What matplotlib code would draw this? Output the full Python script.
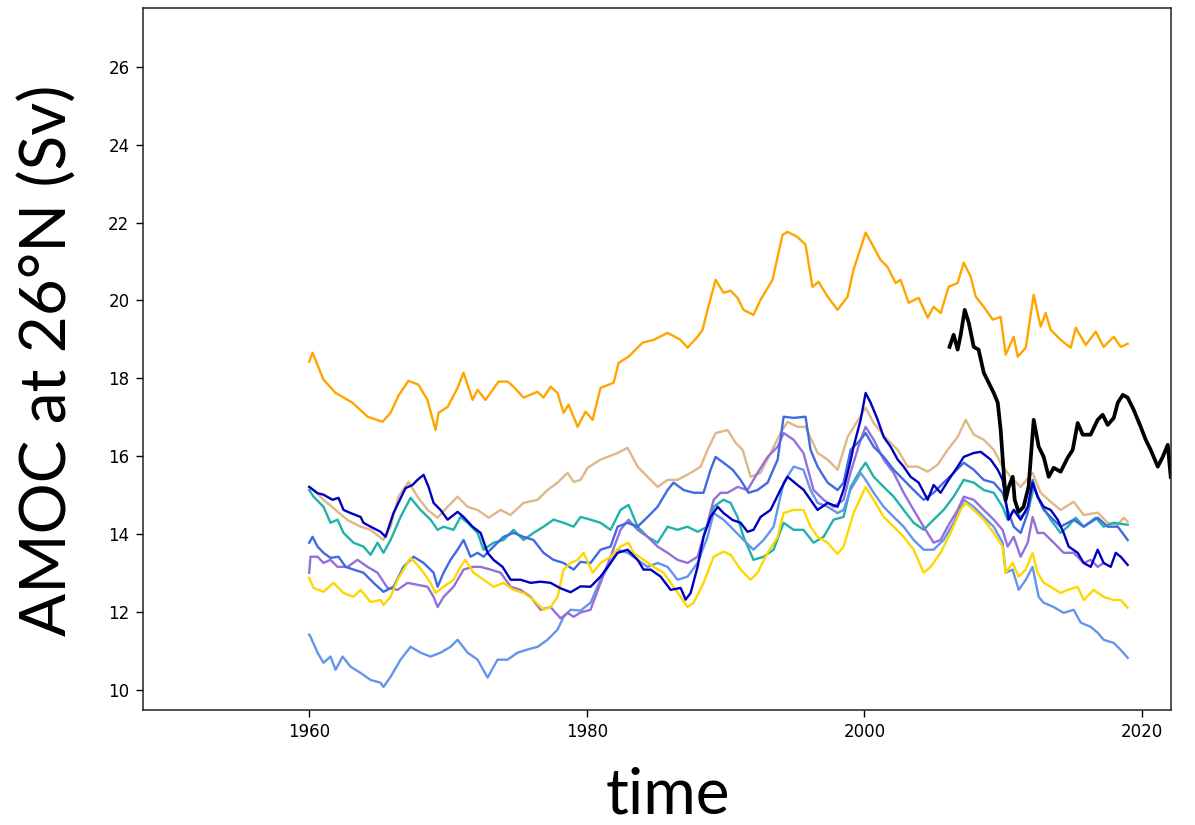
"""
AMOC at 26N: model ensemble vs RAPID observations
"""

import matplotlib
matplotlib.use("Agg")
import matplotlib.pyplot as plt


# (year, Sv) pairs
ORANGE = [
    (1960.0, 18.43), (1960.24, 18.66), (1961.03, 17.97), (1961.9, 17.63), (1963.12, 17.38),
    (1964.2, 17.02), (1965.28, 16.89), (1965.86, 17.12), (1966.43, 17.56), (1967.15, 17.94),
    (1967.87, 17.84), (1968.52, 17.45), (1969.1, 16.68), (1969.32, 17.12), (1969.97, 17.27),
    (1970.69, 17.76), (1971.12, 18.15), (1971.77, 17.45), (1972.13, 17.71), (1972.7, 17.45),
    (1973.64, 17.92), (1974.29, 17.92), (1974.72, 17.79), (1975.44, 17.51), (1976.45, 17.66),
    (1976.88, 17.51), (1977.39, 17.79), (1977.89, 17.63), (1978.33, 17.12), (1978.69, 17.33),
    (1979.34, 16.76), (1979.91, 17.15), (1980.42, 16.94), (1980.99, 17.76), (1981.93, 17.89),
    (1982.29, 18.4), (1983.01, 18.56), (1984.02, 18.92), (1984.81, 18.99), (1985.82, 19.17),
    (1986.76, 18.99), (1987.26, 18.79), (1987.98, 19.07), (1988.34, 19.25), (1988.7, 19.76),
    (1989.28, 20.53), (1989.85, 20.2), (1990.36, 20.25), (1990.86, 20.07), (1991.29, 19.76),
    (1992.01, 19.63), (1992.52, 20.02), (1993.38, 20.53), (1994.1, 21.68), (1994.46, 21.76),
    (1995.18, 21.63), (1995.76, 21.43), (1996.26, 20.35), (1996.7, 20.48), (1997.35, 20.1),
    (1998.07, 19.76), (1998.79, 20.1), (1999.22, 20.79), (2000.09, 21.74), (2000.45, 21.51),
    (2001.17, 21.04), (2001.67, 20.86), (2002.25, 20.45), (2002.61, 20.53), (2003.19, 19.94),
    (2003.91, 20.07), (2004.56, 19.56), (2004.99, 19.84), (2005.5, 19.68), (2006.07, 20.35),
    (2006.72, 20.45), (2007.16, 20.97), (2007.66, 20.61), (2008.02, 20.1), (2008.6, 19.84),
    (2009.25, 19.51), (2009.82, 19.58), (2010.18, 18.61), (2010.76, 19.07), (2011.05, 18.56),
    (2011.63, 18.79), (2012.2, 20.15), (2012.7, 19.33), (2013.06, 19.68), (2013.42, 19.25),
    (2014.14, 18.99), (2014.87, 18.79), (2015.23, 19.3), (2015.95, 18.86), (2016.67, 19.2),
    (2017.24, 18.81), (2017.97, 19.07), (2018.47, 18.81), (2018.97, 18.89),
]

TAN = [
    (1960.0, 15.22), (1960.31, 15.14), (1961.03, 14.89), (1961.9, 14.63), (1962.76, 14.37),
    (1963.7, 14.2), (1964.42, 14.12), (1965.35, 13.86), (1965.86, 14.2), (1966.43, 14.97),
    (1967.16, 15.35), (1967.8, 14.97), (1968.53, 14.63), (1969.25, 14.43), (1969.97, 14.71),
    (1970.69, 14.97), (1971.41, 14.71), (1972.13, 14.63), (1972.92, 14.43), (1973.79, 14.63),
    (1974.51, 14.5), (1975.44, 14.81), (1976.45, 14.89), (1977.17, 15.14), (1977.89, 15.33),
    (1978.61, 15.58), (1979.05, 15.35), (1979.55, 15.4), (1980.06, 15.71), (1980.99, 15.92),
    (1981.5, 15.99), (1982.22, 16.09), (1982.94, 16.22), (1983.66, 15.74), (1984.38, 15.48),
    (1985.1, 15.22), (1985.82, 15.4), (1986.54, 15.4), (1987.48, 15.58), (1988.2, 15.74),
    (1988.7, 16.17), (1989.28, 16.6), (1990.14, 16.68), (1990.72, 16.35), (1991.23, 16.17),
    (1991.8, 15.48), (1992.52, 15.58), (1993.24, 16.09), (1993.96, 16.6), (1994.46, 16.89),
    (1995.18, 16.76), (1995.76, 16.76), (1996.63, 16.09), (1997.35, 15.92), (1998.07, 15.66),
    (1998.79, 16.5), (2000.09, 17.25), (2000.67, 16.86), (2001.67, 16.43), (2002.4, 16.17),
    (2003.12, 15.74), (2003.84, 15.74), (2004.56, 15.61), (2005.28, 15.79), (2006.0, 16.17),
    (2006.72, 16.5), (2007.3, 16.94), (2007.88, 16.56), (2008.6, 16.43), (2009.32, 16.17),
    (2009.96, 15.74), (2010.54, 15.48), (2011.26, 15.22), (2012.12, 15.58), (2012.7, 15.07),
    (2013.42, 14.84), (2014.14, 14.63), (2015.08, 14.84), (2015.8, 14.5), (2016.81, 14.56),
    (2017.53, 14.3), (2018.26, 14.25), (2018.68, 14.43), (2018.97, 14.33),
]

DARKBLUE = [
    (1960.0, 15.22), (1960.6, 15.06), (1961.03, 15.02), (1961.68, 14.89), (1962.11, 14.94),
    (1962.47, 14.63), (1962.98, 14.55), (1963.7, 14.45), (1963.91, 14.3), (1964.42, 14.2),
    (1965.14, 14.07), (1965.5, 13.94), (1966.07, 14.55), (1966.94, 15.19), (1967.44, 15.27),
    (1967.8, 15.4), (1968.24, 15.53), (1968.6, 15.22), (1968.96, 14.81), (1969.46, 14.63),
    (1969.97, 14.38), (1970.69, 14.58), (1971.12, 14.45), (1971.77, 14.2), (1972.35, 14.04),
    (1972.85, 13.53), (1973.28, 13.35), (1973.93, 13.17), (1974.51, 12.84), (1975.23, 12.84),
    (1975.95, 12.76), (1976.67, 12.79), (1977.39, 12.76), (1978.11, 12.62), (1978.83, 12.52),
    (1979.55, 12.67), (1980.27, 12.66), (1980.99, 12.92), (1981.71, 13.27), (1982.22, 13.53),
    (1982.94, 13.61), (1983.66, 13.35), (1984.09, 13.1), (1984.6, 13.1), (1985.32, 12.92),
    (1986.04, 12.58), (1986.76, 12.63), (1987.12, 12.33), (1987.48, 12.5), (1987.98, 13.17),
    (1988.41, 13.94), (1988.92, 14.45), (1989.43, 14.71), (1989.85, 14.55), (1990.51, 14.37),
    (1991.08, 14.3), (1991.58, 14.07), (1992.01, 14.12), (1992.52, 14.45), (1993.24, 14.63),
    (1993.96, 15.15), (1994.46, 15.48), (1995.18, 15.27), (1995.61, 15.15), (1996.12, 14.89),
    (1996.63, 14.63), (1997.35, 14.81), (1998.07, 14.71), (1998.5, 15.15), (1999.01, 15.9),
    (1999.22, 16.25), (1999.73, 16.94), (2000.09, 17.63), (2000.45, 17.38), (2000.96, 16.94),
    (2001.39, 16.5), (2001.89, 16.25), (2002.4, 15.92), (2002.83, 15.74), (2003.33, 15.48),
    (2003.91, 15.33), (2004.56, 14.89), (2004.99, 15.27), (2005.49, 15.07), (2006.07, 15.4),
    (2006.72, 15.74), (2007.16, 15.99), (2007.88, 16.09), (2008.38, 16.12), (2009.1, 15.92),
    (2009.61, 15.66), (2009.96, 15.4), (2010.18, 14.89), (2010.39, 14.38), (2010.76, 14.63),
    (2011.26, 14.38), (2011.77, 14.71), (2012.12, 15.33), (2012.48, 14.97), (2012.92, 14.71),
    (2013.42, 14.63), (2013.93, 14.38), (2014.36, 14.04), (2014.72, 13.69), (2015.37, 13.53),
    (2015.8, 13.27), (2016.31, 13.17), (2016.81, 13.61), (2017.24, 13.27), (2017.75, 13.17),
    (2018.11, 13.53), (2018.47, 13.43), (2018.97, 13.22),
]

TEAL = [
    (1960.0, 15.14), (1960.31, 14.97), (1961.03, 14.71), (1961.53, 14.3), (1962.04, 14.38),
    (1962.47, 14.04), (1963.19, 13.79), (1963.91, 13.69), (1964.42, 13.48), (1964.92, 13.79),
    (1965.35, 13.53), (1965.86, 13.86), (1966.58, 14.45), (1967.3, 14.94), (1968.02, 14.63),
    (1968.74, 14.38), (1969.25, 14.12), (1969.68, 14.2), (1970.4, 14.12), (1970.9, 14.45),
    (1971.41, 14.3), (1972.13, 14.04), (1972.56, 13.61), (1973.28, 13.79), (1974.0, 13.86),
    (1974.72, 14.12), (1975.44, 13.86), (1976.16, 14.04), (1976.88, 14.2), (1977.6, 14.38),
    (1978.33, 14.3), (1979.05, 14.2), (1979.55, 14.45), (1980.27, 14.38), (1980.99, 14.3),
    (1981.71, 14.12), (1982.43, 14.63), (1983.01, 14.76), (1983.66, 14.2), (1984.38, 13.94),
    (1985.1, 13.79), (1985.82, 14.2), (1986.54, 14.12), (1987.26, 14.2), (1987.98, 14.07),
    (1988.7, 14.2), (1989.14, 14.71), (1989.85, 14.89), (1990.36, 14.81), (1990.86, 14.45),
    (1991.29, 13.94), (1992.01, 13.35), (1992.74, 13.43), (1993.46, 13.61), (1994.18, 14.3),
    (1994.9, 14.12), (1995.61, 14.12), (1996.34, 13.79), (1997.06, 13.94), (1997.78, 14.38),
    (1998.5, 14.45), (1999.01, 15.22), (1999.73, 15.66), (2000.09, 15.84), (2000.67, 15.48),
    (2001.39, 15.22), (2002.11, 14.97), (2002.83, 14.63), (2003.55, 14.3), (2004.27, 14.12),
    (2004.99, 14.38), (2005.71, 14.63), (2006.43, 14.97), (2007.16, 15.4), (2007.88, 15.33),
    (2008.6, 15.14), (2009.32, 15.07), (2009.96, 14.71), (2010.32, 14.38), (2010.76, 14.63),
    (2011.26, 14.45), (2011.83, 14.63), (2012.2, 15.22), (2012.7, 14.81), (2013.42, 14.38),
    (2014.14, 14.04), (2014.65, 14.2), (2015.23, 14.43), (2015.8, 14.2), (2016.67, 14.43),
    (2017.24, 14.2), (2017.97, 14.3), (2018.97, 14.25),
]

ROYALBLUE = [
    (1960.0, 13.79), (1960.24, 13.94), (1960.6, 13.69), (1961.03, 13.53), (1961.53, 13.4),
    (1962.11, 13.43), (1962.62, 13.17), (1963.19, 13.1), (1963.91, 13.02), (1964.63, 12.76),
    (1965.35, 12.53), (1966.07, 12.66), (1966.8, 13.17), (1967.52, 13.43), (1968.24, 13.27),
    (1968.96, 13.02), (1969.25, 12.66), (1969.68, 13.02), (1970.18, 13.35), (1970.69, 13.61),
    (1971.12, 13.86), (1971.62, 13.43), (1972.13, 13.53), (1972.56, 13.43), (1973.28, 13.69),
    (1974.0, 13.94), (1974.72, 14.04), (1975.44, 13.94), (1976.16, 13.86), (1976.88, 13.53),
    (1977.6, 13.35), (1978.33, 13.27), (1979.05, 13.1), (1979.55, 13.3), (1980.27, 13.27),
    (1980.99, 13.61), (1981.71, 13.69), (1982.22, 14.2), (1982.94, 14.3), (1983.66, 14.2),
    (1984.38, 14.45), (1985.1, 14.71), (1985.82, 15.14), (1986.25, 15.33), (1986.98, 15.14),
    (1987.7, 15.07), (1988.41, 15.07), (1988.92, 15.66), (1989.28, 15.99), (1989.85, 15.84),
    (1990.51, 15.66), (1991.08, 15.4), (1991.65, 15.07), (1992.3, 15.14), (1993.03, 15.33),
    (1993.75, 15.92), (1994.18, 17.02), (1994.9, 16.99), (1995.76, 17.02), (1996.12, 16.17),
    (1996.63, 15.74), (1997.35, 15.33), (1998.07, 15.14), (1998.5, 15.33), (1999.01, 16.17),
    (1999.73, 16.43), (2000.09, 16.6), (2000.67, 16.25), (2001.39, 15.99), (2002.11, 15.66),
    (2002.83, 15.4), (2003.55, 15.14), (2004.27, 14.89), (2004.99, 15.07), (2005.71, 15.33),
    (2006.43, 15.58), (2007.16, 15.84), (2007.88, 15.66), (2008.6, 15.4), (2009.32, 15.33),
    (2009.96, 15.07), (2010.32, 14.63), (2010.76, 14.2), (2011.26, 14.04), (2011.77, 14.55),
    (2012.12, 15.4), (2012.48, 14.97), (2012.92, 14.63), (2013.42, 14.45), (2014.14, 14.2),
    (2015.08, 14.38), (2015.8, 14.2), (2016.81, 14.43), (2017.53, 14.2), (2018.26, 14.2),
    (2018.97, 13.86),
]

PURPLE = [
    (1960.0, 13.02), (1960.09, 13.43), (1960.6, 13.43), (1961.03, 13.27), (1961.53, 13.35),
    (1962.04, 13.17), (1962.76, 13.17), (1963.48, 13.35), (1964.2, 13.17), (1964.92, 13.02),
    (1965.64, 12.63), (1966.36, 12.58), (1967.08, 12.76), (1967.8, 12.71), (1968.53, 12.66),
    (1968.96, 12.4), (1969.25, 12.14), (1969.68, 12.4), (1970.4, 12.66), (1971.12, 13.1),
    (1971.77, 13.17), (1972.35, 13.17), (1973.07, 13.1), (1973.79, 13.02), (1974.51, 12.66),
    (1975.23, 12.58), (1975.95, 12.4), (1976.67, 12.07), (1977.39, 12.14), (1978.11, 11.85),
    (1978.61, 11.99), (1979.05, 11.89), (1979.55, 12.0), (1980.27, 12.07), (1980.99, 12.76),
    (1981.71, 13.43), (1982.43, 14.12), (1983.01, 14.38), (1983.66, 14.12), (1984.38, 13.94),
    (1985.1, 13.69), (1985.82, 13.53), (1986.54, 13.35), (1987.26, 13.27), (1987.98, 13.43),
    (1988.7, 14.3), (1989.14, 14.89), (1989.64, 15.07), (1990.14, 15.07), (1990.86, 15.22),
    (1991.58, 15.14), (1992.3, 15.58), (1993.03, 15.99), (1993.75, 16.25), (1994.18, 16.6),
    (1994.9, 16.43), (1995.61, 16.09), (1996.34, 15.14), (1997.06, 14.89), (1997.78, 14.71),
    (1998.5, 14.89), (1999.01, 15.6), (1999.73, 16.43), (2000.09, 16.76), (2000.67, 16.43),
    (2001.39, 15.92), (2002.11, 15.58), (2002.83, 15.07), (2003.55, 14.63), (2004.27, 14.2),
    (2004.99, 13.79), (2005.49, 13.86), (2006.0, 14.2), (2006.72, 14.63), (2007.16, 14.97),
    (2007.88, 14.89), (2008.6, 14.63), (2009.32, 14.38), (2009.96, 14.12), (2010.32, 13.69),
    (2010.76, 13.94), (2011.26, 13.43), (2011.77, 13.79), (2012.12, 14.45), (2012.48, 14.04),
    (2012.92, 14.04), (2013.64, 13.79), (2014.36, 13.53), (2015.08, 13.53), (2015.8, 13.27),
    (2016.31, 13.35), (2016.81, 13.17), (2017.24, 13.27),
]

GOLD = [
    (1960.0, 12.89), (1960.31, 12.63), (1961.03, 12.53), (1961.75, 12.76), (1962.47, 12.5),
    (1963.19, 12.4), (1963.7, 12.58), (1964.42, 12.27), (1965.14, 12.32), (1965.35, 12.19),
    (1965.86, 12.4), (1966.36, 12.84), (1966.8, 13.1), (1967.3, 13.4), (1967.8, 13.22),
    (1968.24, 13.02), (1968.74, 12.76), (1969.1, 12.5), (1969.68, 12.66), (1970.4, 12.84),
    (1970.9, 13.17), (1971.26, 13.35), (1971.84, 13.02), (1972.56, 12.84), (1973.28, 12.66),
    (1974.0, 12.76), (1974.72, 12.58), (1975.44, 12.5), (1976.16, 12.32), (1976.88, 12.07),
    (1977.39, 12.14), (1977.89, 12.4), (1978.33, 13.1), (1978.83, 13.27), (1979.34, 13.35),
    (1979.77, 13.53), (1980.42, 13.02), (1980.99, 13.27), (1981.71, 13.43), (1982.43, 13.69),
    (1983.01, 13.79), (1983.37, 13.53), (1984.09, 13.35), (1984.81, 13.17), (1985.53, 13.02),
    (1986.04, 12.76), (1986.76, 12.4), (1987.26, 12.14), (1987.7, 12.25), (1988.41, 12.76),
    (1989.14, 13.43), (1989.85, 13.56), (1990.36, 13.48), (1991.08, 13.1), (1991.8, 12.84),
    (1992.3, 13.02), (1993.03, 13.53), (1993.75, 13.94), (1994.18, 14.55), (1994.9, 14.63),
    (1995.61, 14.63), (1996.12, 14.2), (1996.63, 13.94), (1997.35, 13.79), (1998.07, 13.5),
    (1998.5, 13.69), (1999.22, 14.55), (2000.09, 15.22), (2000.67, 14.89), (2001.39, 14.45),
    (2002.11, 14.2), (2002.83, 13.94), (2003.55, 13.61), (2004.27, 13.02), (2004.77, 13.17),
    (2005.49, 13.53), (2006.21, 14.04), (2006.93, 14.63), (2007.3, 14.81), (2007.88, 14.63),
    (2008.6, 14.38), (2009.32, 14.04), (2009.96, 13.69), (2010.18, 13.02), (2010.68, 13.27),
    (2011.12, 12.92), (2011.63, 13.1), (2012.12, 13.53), (2012.48, 13.02), (2012.92, 12.76),
    (2013.42, 12.66), (2014.14, 12.5), (2014.65, 12.58), (2015.37, 12.66), (2015.8, 12.32),
    (2016.52, 12.58), (2017.24, 12.4), (2017.97, 12.32), (2018.47, 12.32), (2018.97, 12.12),
]

CORNFLOWER = [
    (1960.0, 11.43), (1960.09, 11.38), (1960.6, 10.97), (1961.03, 10.71), (1961.53, 10.87),
    (1961.9, 10.53), (1962.4, 10.87), (1962.98, 10.61), (1963.7, 10.45), (1964.42, 10.27),
    (1965.14, 10.2), (1965.35, 10.09), (1965.86, 10.35), (1966.58, 10.79), (1967.3, 11.12),
    (1968.02, 10.97), (1968.74, 10.87), (1969.46, 10.97), (1970.18, 11.12), (1970.69, 11.3),
    (1971.41, 10.97), (1972.13, 10.79), (1972.85, 10.33), (1973.57, 10.79), (1974.29, 10.79),
    (1975.01, 10.97), (1975.73, 11.05), (1976.45, 11.12), (1977.17, 11.3), (1977.89, 11.56),
    (1978.33, 11.89), (1978.83, 12.07), (1979.55, 12.05), (1980.27, 12.25), (1980.99, 12.84),
    (1981.71, 13.27), (1982.22, 13.61), (1982.94, 13.53), (1983.66, 13.35), (1984.38, 13.17),
    (1985.1, 13.27), (1985.82, 13.17), (1986.54, 12.84), (1987.26, 12.92), (1987.98, 13.27),
    (1988.7, 13.94), (1989.14, 14.55), (1989.85, 14.38), (1990.58, 14.12), (1991.29, 13.86),
    (1992.01, 13.61), (1992.74, 13.86), (1993.46, 14.2), (1994.18, 15.33), (1994.9, 15.74),
    (1995.61, 15.66), (1996.12, 15.14), (1996.63, 14.81), (1997.35, 14.71), (1998.07, 14.55),
    (1998.5, 14.63), (1999.01, 15.15), (1999.73, 15.58), (2000.09, 15.4), (2000.67, 15.07),
    (2001.39, 14.71), (2002.11, 14.45), (2002.83, 14.2), (2003.55, 13.86), (2004.27, 13.61),
    (2004.99, 13.61), (2005.71, 13.86), (2006.43, 14.3), (2007.16, 14.89), (2007.88, 14.71),
    (2008.6, 14.45), (2009.32, 14.2), (2009.96, 13.79), (2010.18, 13.02), (2010.68, 13.1),
    (2011.12, 12.58), (2011.63, 12.84), (2012.12, 13.17), (2012.56, 12.4), (2012.92, 12.25),
    (2013.64, 12.14), (2014.36, 11.99), (2015.08, 12.07), (2015.59, 11.74), (2016.31, 11.63),
    (2016.81, 11.48), (2017.24, 11.3), (2017.97, 11.22), (2018.47, 11.04), (2018.97, 10.84),
]

RAPID = [
    (2006.14, 18.81), (2006.43, 19.12), (2006.72, 18.74), (2006.94, 19.12), (2007.23, 19.76),
    (2007.52, 19.43), (2007.88, 18.81), (2008.23, 18.74), (2008.6, 18.15), (2008.96, 17.89),
    (2009.32, 17.63), (2009.61, 17.38), (2009.82, 16.68), (2010.04, 15.58), (2010.18, 14.89),
    (2010.4, 15.22), (2010.69, 15.48), (2010.83, 14.89), (2011.11, 14.58), (2011.47, 14.71),
    (2011.83, 15.22), (2012.2, 16.94), (2012.56, 16.25), (2012.92, 15.99), (2013.28, 15.48),
    (2013.64, 15.71), (2014.14, 15.61), (2014.65, 15.97), (2015.01, 16.17), (2015.37, 16.86),
    (2015.73, 16.56), (2016.3, 16.56), (2016.81, 16.94), (2017.17, 17.07), (2017.53, 16.81),
    (2017.97, 16.99), (2018.26, 17.38), (2018.62, 17.58), (2018.97, 17.51), (2019.4, 17.2),
    (2019.91, 16.76), (2020.27, 16.43), (2020.63, 16.17), (2021.14, 15.74), (2021.5, 15.99),
    (2021.86, 16.3), (2022.07, 15.48),
]

X_TICKS = [1960, 1980, 2000, 2020]
Y_TICKS = [10, 12, 14, 16, 18, 20, 22, 24, 26]


def main():

    fig = plt.figure(figsize=(11.95, 8.25), dpi=100)
    ax = fig.add_axes([0.1194, 0.1394, 0.8606, 0.8509])

    models = [
        (TAN, "burlywood"),
        (TEAL, "lightseagreen"),
        (CORNFLOWER, "cornflowerblue"),
        (PURPLE, "mediumpurple"),
        (ROYALBLUE, "royalblue"),
        (GOLD, "gold"),
        (DARKBLUE, "#0000c0"),
        (ORANGE, "orange"),
    ]

    for series, color in models:
        t, v = zip(*series)
        ax.plot(t, v, color=color, linewidth=1.7)

    t, v = zip(*RAPID)
    ax.plot(t, v, color="black", linewidth=2.7)

    ax.set_xlim(1948.0, 2022.1)
    ax.set_ylim(9.5, 27.5)
    ax.set_xticks(X_TICKS)
    ax.set_yticks(Y_TICKS)
    ax.tick_params(labelsize=12, length=5, width=1.0, pad=4.5)

    for spine in ax.spines.values():
        spine.set_linewidth(1.1)
        spine.set_color("#222222")

    fig.text(
        0.040, 0.563, "AMOC at 26°N (Sv)",
        rotation=90, ha="center", va="center",
        fontsize=46, family=["Lato", "DejaVu Sans"],
    )
    fig.text(
        0.559, 0.014, "time",
        ha="center", va="baseline",
        fontsize=46, family=["Lato", "DejaVu Sans"],
    )

    fig.savefig("out.png", dpi=100)


if __name__ == "__main__":
    main()
